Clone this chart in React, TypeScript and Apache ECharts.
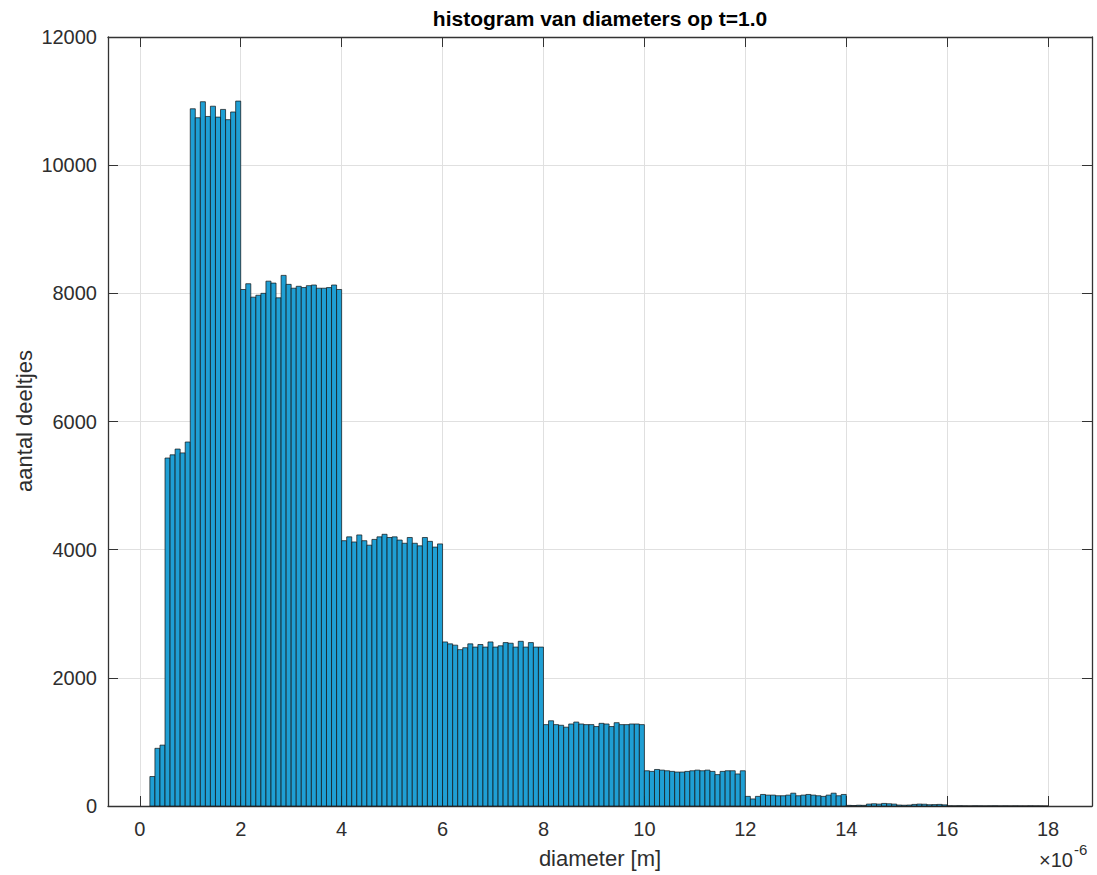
import React, { useEffect, useRef } from 'react';
import * as echarts from 'echarts';

// ---- data (diameter in units of 1e-6 m, bin width 0.1e-6 m) ----
const binStart = 0.2;
const binWidth = 0.1;
const counts: number[] = [
  // 0.2 - 0.5
  460, 900, 950,
  // 0.5 - 1.0
  5430, 5480, 5570, 5510, 5680,
  // 1.0 - 2.0
  10880, 10740, 10990, 10760, 10920, 10750, 10870, 10710, 10830, 11000,
  // 2.0 - 4.0
  8060, 8150, 7940, 7970, 8000, 8190, 8160, 7930, 8280, 8140,
  8080, 8110, 8090, 8120, 8130, 8080, 8080, 8090, 8130, 8060,
  // 4.0 - 6.0
  4140, 4200, 4120, 4230, 4140, 4070, 4160, 4200, 4240, 4190,
  4200, 4150, 4100, 4190, 4100, 4060, 4190, 4130, 4040, 4090,
  // 6.0 - 8.0
  2560, 2530, 2510, 2440, 2470, 2530, 2480, 2520, 2480, 2560,
  2480, 2500, 2550, 2540, 2480, 2570, 2480, 2550, 2480, 2480,
  // 8.0 - 10.0
  1270, 1330, 1270, 1260, 1230, 1280, 1310, 1280, 1270, 1270,
  1240, 1290, 1280, 1240, 1300, 1270, 1270, 1280, 1280, 1270,
  // 10.0 - 12.0
  550, 540, 570, 560, 550, 540, 530, 530, 540, 550,
  560, 550, 560, 540, 490, 540, 550, 550, 500, 550,
  // 12.0 - 14.0
  150, 110, 150, 180, 170, 170, 160, 160, 170, 200,
  160, 170, 180, 170, 160, 150, 170, 200, 160, 180,
  // 14.0 - 16.0
  10, 8, 12, 10, 30, 35, 30, 40, 35, 30,
  15, 12, 15, 25, 30, 28, 20, 22, 25, 18,
  // 16.0 - 18.0
  3, 2, 4, 2, 1, 3, 2, 1, 2, 3,
  1, 2, 1, 2, 1, 1, 2, 1, 1, 0,
];
const xTicks = [0, 2, 4, 6, 8, 10, 12, 14, 16, 18];
const xMin = -0.63;
const xMax = 18.87;
const yMin = 0;
const yMax = 12000;
const yStep = 2000;
const titleText = 'histogram van diameters op t=1.0';
const xLabelText = 'diameter [m]';
const yLabelText = 'aantal deeltjes';
const expBase = '×10';
const expPower = '-6';

const FONT = '"Liberation Sans", Arial, Helvetica, sans-serif';
const TXT = '#2e2e2e';
const AX = '#333333';
const GRID = '#e0e0e0';

export default function App() {
  const ref = useRef<HTMLDivElement>(null);
  useEffect(() => {
    document.body.style.margin = '0';
    if (!ref.current) return;
    const chart = echarts.init(ref.current, undefined, { renderer: 'svg' });
    const data = counts.map((c, i) => [
      +(binStart + i * binWidth).toFixed(2),
      +(binStart + (i + 1) * binWidth).toFixed(2),
      c,
    ]);
    const axisLineStyle = { color: AX, width: 1.3 };
    const option: any = {
      animation: false,
      backgroundColor: '#ffffff',
      grid: { left: 108, right: 5, top: 37, bottom: 69, containLabel: false },
      xAxis: [
        {
          type: 'value',
          min: xMin,
          max: xMax,
          position: 'bottom',
          axisLine: { show: true, onZero: false, lineStyle: axisLineStyle },
          axisTick: { show: true, inside: true, length: 10, customValues: xTicks, lineStyle: { color: AX, width: 1 } },
          axisLabel: {
            show: true,
            customValues: xTicks,
            margin: 13,
            color: TXT,
            fontSize: 20,
            fontFamily: FONT,
            formatter: (v: number) => String(v),
          },
          splitLine: { show: true, lineStyle: { color: GRID, width: 1 } },
        },
        {
          type: 'value',
          min: xMin,
          max: xMax,
          position: 'top',
          axisLine: { show: true, onZero: false, lineStyle: axisLineStyle },
          axisTick: { show: true, inside: true, length: 10, customValues: xTicks, lineStyle: { color: AX, width: 1 } },
          axisLabel: { show: false },
          splitLine: { show: false },
        },
      ],
      yAxis: [
        {
          type: 'value',
          min: yMin,
          max: yMax,
          interval: yStep,
          position: 'left',
          axisLine: { show: true, onZero: false, lineStyle: axisLineStyle },
          axisTick: { show: true, inside: true, length: 10, lineStyle: { color: AX, width: 1 } },
          axisLabel: {
            show: true,
            margin: 11,
            color: TXT,
            fontSize: 20,
            fontFamily: FONT,
            formatter: (v: number) => String(v),
          },
          splitLine: { show: true, lineStyle: { color: GRID, width: 1 } },
        },
        {
          type: 'value',
          min: yMin,
          max: yMax,
          interval: yStep,
          position: 'right',
          axisLine: { show: true, onZero: false, lineStyle: axisLineStyle },
          axisTick: { show: true, inside: true, length: 10, lineStyle: { color: AX, width: 1 } },
          axisLabel: { show: false },
          splitLine: { show: false },
        },
      ],
      series: [
        {
          type: 'custom',
          xAxisIndex: 0,
          yAxisIndex: 0,
          data,
          encode: { x: [0, 1], y: 2 },
          renderItem: (_params: any, api: any) => {
            const x0 = api.value(0);
            const x1 = api.value(1);
            const c = api.value(2);
            const pTop = api.coord([x0, c]);
            const pBot = api.coord([x1, 0]);
            return {
              type: 'rect',
              shape: {
                x: pTop[0],
                y: pTop[1],
                width: pBot[0] - pTop[0],
                height: pBot[1] - pTop[1],
              },
              style: { fill: '#1f9fd4', stroke: '#111111', lineWidth: 0.7 },
            };
          },
        },
      ],
      graphic: [
        {
          type: 'text',
          x: 600,
          y: 18,
          style: {
            text: titleText,
            fontSize: 21,
            fontWeight: 'bold',
            fontFamily: FONT,
            fill: '#000000',
            textAlign: 'center',
            textVerticalAlign: 'middle',
          },
        },
        {
          type: 'text',
          x: 600,
          y: 858,
          style: {
            text: xLabelText,
            fontSize: 22,
            fontFamily: FONT,
            fill: TXT,
            textAlign: 'center',
            textVerticalAlign: 'middle',
          },
        },
        {
          type: 'text',
          x: 24,
          y: 421,
          rotation: Math.PI / 2,
          style: {
            text: yLabelText,
            fontSize: 22,
            fontFamily: FONT,
            fill: TXT,
            textAlign: 'center',
            textVerticalAlign: 'middle',
          },
        },
        {
          type: 'text',
          x: 1073,
          y: 860,
          style: {
            text: expBase,
            fontSize: 20,
            fontFamily: FONT,
            fill: TXT,
            textAlign: 'right',
            textVerticalAlign: 'middle',
          },
        },
        {
          type: 'text',
          x: 1074,
          y: 849,
          style: {
            text: expPower,
            fontSize: 15,
            fontFamily: FONT,
            fill: TXT,
            textAlign: 'left',
            textVerticalAlign: 'middle',
          },
        },
      ],
    };
    chart.setOption(option);
    return () => {
      chart.dispose();
    };
  }, []);
  return <div ref={ref} style={{ width: 1097, height: 875 }} />;
}
